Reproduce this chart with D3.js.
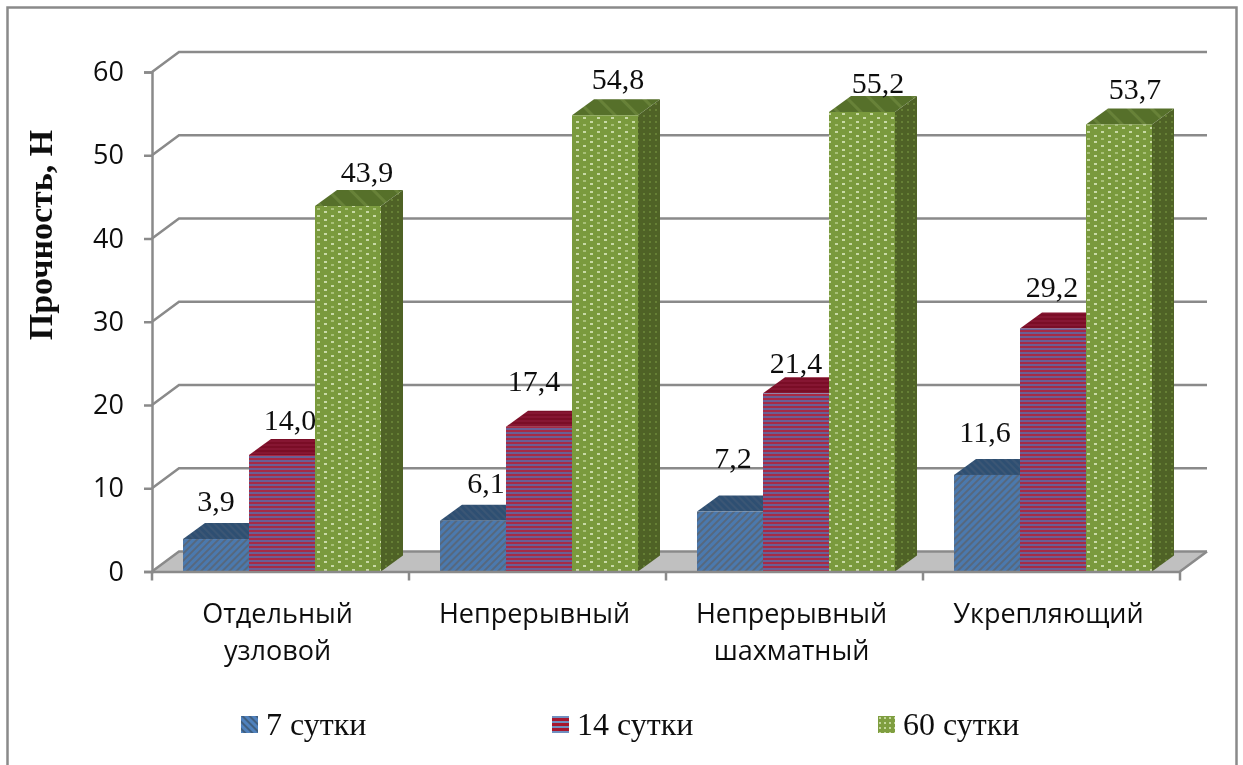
<!DOCTYPE html>
<html>
<head>
<meta charset="utf-8">
<script src="https://cdnjs.cloudflare.com/ajax/libs/d3/7.8.5/d3.min.js"></script>
<style>
  html, body { margin: 0; padding: 0; background: #fff; }
  svg { display: block; }
</style>
</head>
<body>
<svg id="chart" width="1243" height="765"></svg>
<script>
const categories = ["Отдельный\nузловой", "Непрерывный", "Непрерывный\nшахматный", "Укрепляющий"];
const seriesNames = ["7 сутки", "14 сутки", "60 сутки"];
const values7 = [3.9, 6.1, 7.2, 11.6];
const values14 = [14.0, 17.4, 21.4, 29.2];
const values60 = [43.9, 54.8, 55.2, 53.7];
const yTicks = [0, 10, 20, 30, 40, 50, 60];

const seriesValues = [values7, values14, values60];
const formVal = d3.format(".1f");

const root = d3.select("#chart");
const defs = root.append("defs");

// the reference is a slightly soft screenshot
defs.append("filter")
  .attr("id", "soft")
  .attr("filterUnits", "userSpaceOnUse")
  .attr("x", 0).attr("y", 0)
  .attr("width", 1243).attr("height", 765)
  .append("feGaussianBlur")
  .attr("stdDeviation", 0.5);
const svg = root.append("g").attr("filter", "url(#soft)");

// hatch fills, one set per series
function hatch(id, size, angle, base, draw) {
  const p = defs.append("pattern")
    .attr("id", id)
    .attr("patternUnits", "userSpaceOnUse")
    .attr("width", size)
    .attr("height", size);
  if (angle) p.attr("patternTransform", "rotate(" + angle + ")");
  p.append("rect").attr("width", size).attr("height", size).attr("fill", base);
  draw(p);
}
function stripe(color, w) {
  return function(p) {
    p.append("rect").attr("width", w).attr("height", +p.attr("height")).attr("fill", color);
  };
}
function hstripe(color, h) {
  return function(p) {
    p.append("rect").attr("width", +p.attr("width")).attr("height", h).attr("fill", color);
  };
}
hatch("blueFront", 5, 45, "#4c79ae", stripe("#56687e", 2));
hatch("blueTop", 5, -45, "#2f4f72", stripe("#3a5674", 2));
hatch("redFront", 4, 0, "#a82a45", hstripe("#6a5f95", 2));
hatch("redTop", 4, 0, "#7a1028", hstripe("#861630", 2));
hatch("greenFront", 14, 0, "#7a9a3c", function(p) {
  p.append("rect").attr("x", 2).attr("y", 1).attr("width", 3).attr("height", 2).attr("fill", "#c8d9a6");
  p.append("rect").attr("x", 9).attr("y", 5).attr("width", 3).attr("height", 2).attr("fill", "#c8d9a6");
  p.append("rect").attr("x", 2).attr("y", 9).attr("width", 3).attr("height", 2).attr("fill", "#c8d9a6");
  p.append("rect").attr("x", 9).attr("y", 12).attr("width", 3).attr("height", 2).attr("fill", "#a8c078");
});
hatch("greenSide", 6, 0, "#4f6228", function(p) {
  p.append("rect").attr("x", 1).attr("y", 1).attr("width", 2).attr("height", 2).attr("fill", "#668035");
});
hatch("greenTop", 16, -45, "#566f2c", stripe("#678238", 3));
hatch("legendBlue", 5, -45, "#4f81bd", stripe("#3f5f80", 2));
hatch("legendRed", 5, 0, "#a8182f", hstripe("#6f8fc0", 2));
hatch("legendGreen", 5, 0, "#7f9e41", function(p) {
  p.append("rect").attr("x", 1).attr("y", 1).attr("width", 2).attr("height", 2).attr("fill", "#c3d69b");
});

const faces = [
  { front: "url(#blueFront)", top: "url(#blueTop)", side: "#2f4f72", legend: "url(#legendBlue)" },
  { front: "url(#redFront)", top: "url(#redTop)", side: "#7a1028", legend: "url(#legendRed)" },
  { front: "url(#greenFront)", top: "url(#greenTop)", side: "url(#greenSide)", legend: "url(#legendGreen)" }
];

const gridColor = "#8a8a8a";
const left = 152, right = 1180, baseY = 571.5, topY = 72;
const wallDx = 27, wallDy = -20;
const barDx = 22, barDy = -16;

const y = d3.scaleLinear().domain([0, 60]).range([baseY, topY]);
const x0 = d3.scaleBand().domain(categories).range([left, right]);
const x1 = d3.scaleBand().domain(seriesNames).range([31, 229]);

// outer frame
svg.append("rect")
  .attr("x", 7.5).attr("y", 7.5)
  .attr("width", 1229).attr("height", 770)
  .attr("fill", "#fff")
  .attr("stroke", gridColor)
  .attr("stroke-width", 2.5);

const plot = svg.append("g");

// floor
plot.append("polygon")
  .attr("points", [
    [left, baseY], [left + wallDx, baseY + wallDy],
    [right + wallDx, baseY + wallDy], [right, baseY]
  ].join(" "))
  .attr("fill", "#c0c0c0");

// gridlines on the back wall
plot.selectAll("path.grid")
  .data(yTicks)
  .enter()
  .append("path")
  .attr("class", "grid")
  .attr("fill", "none")
  .attr("stroke", gridColor)
  .attr("stroke-width", 2.5)
  .attr("d", function(d) {
    return d3.line()([
      [left, y(d)], [left + wallDx, y(d) + wallDy], [right + wallDx, y(d) + wallDy]
    ]);
  });

// right edge of the floor
plot.append("line")
  .attr("x1", right).attr("y1", baseY)
  .attr("x2", right + wallDx).attr("y2", baseY + wallDy)
  .attr("stroke", gridColor).attr("stroke-width", 2.5);

// bars, left to right so the next one hides the side of the previous one
categories.forEach(function(cat, c) {
  seriesNames.forEach(function(name, s) {
    const v = seriesValues[s][c];
    const bx = x0(cat) + x1(name);
    const bw = x1.bandwidth();
    const by = y(v);
    const g = plot.append("g").attr("class", "bar");
    g.append("polygon")
      .attr("points", [
        [bx + bw, by], [bx + bw + barDx, by + barDy],
        [bx + bw + barDx, baseY + barDy], [bx + bw, baseY]
      ].join(" "))
      .attr("fill", faces[s].side);
    g.append("polygon")
      .attr("points", [
        [bx, by], [bx + barDx, by + barDy],
        [bx + bw + barDx, by + barDy], [bx + bw, by]
      ].join(" "))
      .attr("fill", faces[s].top);
    g.append("rect")
      .attr("x", bx).attr("y", by)
      .attr("width", bw).attr("height", baseY - by)
      .attr("fill", faces[s].front);
  });
});

// value axis
const yAxis = d3.axisLeft(y).tickValues(yTicks).tickSize(8).tickPadding(20);
const yG = svg.append("g").attr("transform", "translate(" + left + ",0)").call(yAxis);
yG.select(".domain").attr("stroke", gridColor).attr("stroke-width", 2.5);
yG.selectAll(".tick line").attr("stroke", gridColor).attr("stroke-width", 2.5);
yG.selectAll(".tick text")
  .attr("fill", "#111")
  .attr("font-family", "'Open Sans', sans-serif")
  .attr("font-size", 27);

// category axis
const xAxis = d3.axisBottom(x0).tickValues([]).tickSize(0);
const xG = svg.append("g").attr("transform", "translate(0," + baseY + ")").call(xAxis);
xG.select(".domain").attr("stroke", gridColor).attr("stroke-width", 2.5);
xG.selectAll("line.cut")
  .data(categories.concat(["end"]))
  .enter()
  .append("line")
  .attr("class", "cut")
  .attr("x1", function(d, i) { return left + i * x0.bandwidth(); })
  .attr("x2", function(d, i) { return left + i * x0.bandwidth(); })
  .attr("y1", 0).attr("y2", 9)
  .attr("stroke", gridColor).attr("stroke-width", 2.5);

const catText = svg.selectAll("text.cat")
  .data(categories)
  .enter()
  .append("text")
  .attr("class", "cat")
  .attr("text-anchor", "middle")
  .attr("font-family", "'Open Sans', sans-serif")
  .attr("font-size", 27)
  .attr("fill", "#111")
  .attr("transform", function(d) { return "translate(" + (x0(d) + x0.bandwidth() / 2 - 3) + ",623)"; });
catText.selectAll("tspan")
  .data(function(d) { return d.split("\n"); })
  .enter()
  .append("tspan")
  .attr("x", 0)
  .attr("y", function(d, i) { return i * 37; })
  .text(function(d) { return d; });

// value labels were dragged by hand in the original, so each has its own shift
const labelShift = [
  [[0, -28], [8, -25], [19, -24]],
  [[13, -28], [-5, -36], [13, -26]],
  [[3, -44], [0, -20], [16, -19]],
  [[-2, -33], [-1, -31], [16, -25]]
];
categories.forEach(function(cat, c) {
  seriesNames.forEach(function(name, s) {
    const v = seriesValues[s][c];
    svg.append("text")
      .attr("class", "value")
      .attr("x", x0(cat) + x1(name) + x1.bandwidth() / 2 + labelShift[c][s][0])
      .attr("y", y(v) + labelShift[c][s][1])
      .attr("text-anchor", "middle")
      .attr("font-family", "'Liberation Serif', serif")
      .attr("font-size", 30)
      .attr("fill", "#111")
      .text(formVal(v).replace(".", ","));
  });
});

// axis title
svg.append("text")
  .attr("transform", "translate(52,235) rotate(-90)")
  .attr("text-anchor", "middle")
  .attr("font-family", "'Liberation Serif', serif")
  .attr("font-weight", "bold")
  .attr("font-size", 34)
  .attr("fill", "#111")
  .text("Прочность, Н");

// legend
const legendX = d3.scaleOrdinal().domain(seriesNames).range([241, 552, 878]);
const legend = svg.selectAll("g.legend")
  .data(seriesNames)
  .enter()
  .append("g")
  .attr("class", "legend")
  .attr("transform", function(d) { return "translate(" + legendX(d) + ",716)"; });
legend.append("rect")
  .attr("width", 17).attr("height", 17)
  .attr("fill", function(d, i) { return faces[i].legend; });
legend.append("text")
  .attr("x", 25).attr("y", 19)
  .attr("font-family", "'Liberation Serif', serif")
  .attr("font-size", 32)
  .attr("fill", "#111")
  .text(function(d) { return d; });
</script>
</body>
</html>
